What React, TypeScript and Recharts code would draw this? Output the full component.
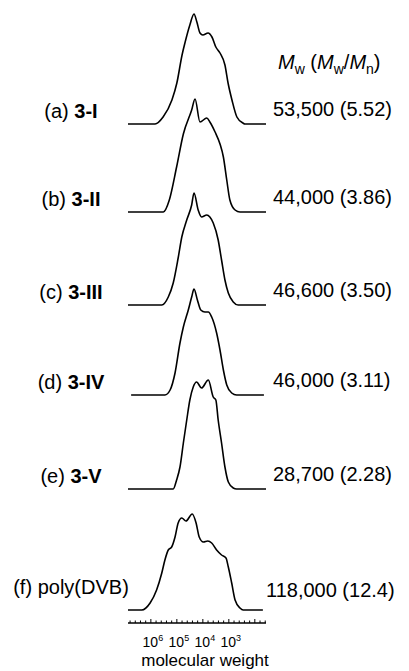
import { LineChart, Line, XAxis, YAxis } from "recharts";

const W = 409;
const H = 671;
const FONT = "'Liberation Sans', Arial, Helvetica, sans-serif";

// sample labels
const sampleTags = ["(a)", "(b)", "(c)", "(d)", "(e)", "(f)"];
const sampleNames = ["3-I", "3-II", "3-III", "3-IV", "3-V", "poly(DVB)"];
const mwLabels = ["53,500 (5.52)", "44,000 (3.86)", "46,600 (3.50)", "46,000 (3.11)", "28,700 (2.28)", "118,000 (12.4)"];

// vertical stacking offset of each trace (intensity units)
const offsets = [499, 411, 318, 228, 134, 13];

// GPC traces: [log10(MW), detector response]
const traceA = [
  [6.88, 0], [5.84, 0], [5.53, 7], [5.19, 24], [5.0, 41], [4.8, 69], [4.69, 81], [4.5, 99], [4.34, 110],
  [4.23, 102], [4.11, 91], [4.0, 89], [3.8, 91], [3.65, 87], [3.5, 77], [3.34, 71], [3.15, 59], [3.03, 41],
  [2.88, 24], [2.69, 7], [2.46, 1], [2.38, 0], [1.57, 0],
];
const traceB = [
  [6.88, 0], [5.52, 0], [5.29, 12], [5.01, 45], [4.75, 78], [4.43, 102], [4.3, 113], [4.11, 90], [3.85, 94],
  [3.73, 90], [3.53, 80], [3.34, 68], [3.21, 55], [3.08, 32], [2.96, 12], [2.76, 2], [2.57, 0], [1.57, 0],
];
const traceC = [
  [6.88, 0], [5.58, 0], [5.33, 8], [5.14, 22], [4.95, 47], [4.81, 68], [4.62, 85], [4.43, 100], [4.34, 112],
  [4.18, 95], [4.05, 88], [3.85, 90], [3.73, 88], [3.6, 82], [3.41, 65], [3.28, 45], [3.15, 25], [3.02, 12],
  [2.83, 3], [2.64, 0], [1.57, 0],
];
const traceD = [
  [6.76, 0], [5.46, 0], [5.26, 5], [5.07, 22], [4.88, 52], [4.75, 68], [4.56, 85], [4.43, 98], [4.34, 106],
  [4.21, 95], [4.08, 85], [3.92, 83], [3.79, 83], [3.66, 78], [3.47, 62], [3.34, 45], [3.21, 25], [3.08, 10],
  [2.89, 2], [2.7, 0], [1.65, 0],
];
const traceE = [
  [6.88, 0], [5.14, 0], [5.01, 9], [4.88, 22], [4.75, 46], [4.62, 69], [4.5, 89], [4.37, 102], [4.24, 107],
  [4.05, 101], [3.79, 109], [3.6, 92], [3.5, 89], [3.41, 69], [3.28, 46], [3.15, 22], [3.02, 7], [2.83, 1],
  [2.7, 0], [1.57, 0],
];
const traceF = [
  [6.88, 0], [6.35, 0], [6.03, 7], [5.78, 20], [5.58, 37], [5.46, 50], [5.33, 60], [5.2, 63], [5.07, 73],
  [4.95, 87], [4.81, 92], [4.65, 89], [4.41, 96], [4.26, 87], [4.14, 73], [3.98, 68], [3.81, 69], [3.66, 67],
  [3.47, 60], [3.28, 55], [3.11, 52], [3.02, 43], [2.89, 27], [2.76, 10], [2.57, 2], [2.45, 0], [1.69, 0],
];
const traces = [traceA, traceB, traceC, traceD, traceE, traceF];

// axis ticks (log10 MW)
const axisTicks = [
  6.8, 6.6, 6.4, 6.2, 6, 5.8, 5.6, 5.4, 5.2, 5, 4.8, 4.6, 4.4, 4.2, 4, 3.8, 3.6, 3.4, 3.2, 3, 2.8, 2.6,
  2.4, 2.2, 2, 1.8, 1.6,
];
const labelledDecades = [6, 5, 4, 3];

const PLOT_LEFT = 128;
const PLOT_RIGHT = 266;
const AXIS_Y = 623;

function AxisTick({ x, y, payload }: any) {
  const v = payload.value;
  const major = Number.isInteger(v);
  return (
    <g>
      <line x1={x} x2={x} y1={y} y2={y - (major ? 4 : 2.5)} stroke="#000" strokeWidth={1} />
      {labelledDecades.includes(v) && (
        <text x={x + 2} y={y + 24} textAnchor="middle" fontSize={14} fontFamily={FONT} fill="#000">
          10<tspan dy={-6} fontSize={9}>{v}</tspan>
        </text>
      )}
    </g>
  );
}

export default function App() {
  return (
    <div style={{ position: "absolute", left: 0, top: 0, width: W, height: H, background: "#fff" }}>
      <LineChart width={W} height={H} margin={{ top: 0, right: W - PLOT_RIGHT, bottom: 0, left: PLOT_LEFT }}>
        <XAxis
          type="number"
          dataKey="lm"
          domain={[1.57, 6.88]}
          reversed
          allowDataOverflow
          ticks={axisTicks}
          interval={0}
          tick={<AxisTick />}
          tickLine={false}
          tickSize={0}
          tickMargin={0}
          height={H - AXIS_Y}
          axisLine={{ stroke: "#000", strokeWidth: 1.3 }}
        />
        <YAxis type="number" domain={[0, AXIS_Y]} hide />
        {traces.map((t, i) => (
          <Line
            key={i}
            data={t.map(([lm, h]) => ({ lm, v: h + offsets[i] }))}
            dataKey="v"
            type="monotone"
            stroke="#000"
            strokeWidth={1.6}
            dot={false}
            isAnimationActive={false}
          />
        ))}
      </LineChart>
      <svg width={W} height={H} style={{ position: "absolute", left: 0, top: 0, pointerEvents: "none" }}>
        <g fontFamily={FONT} fontSize={20} fill="#000">
          <text x={278} y={69}>
            <tspan fontStyle="italic">M</tspan>
            <tspan dy={5} fontSize={14}>w</tspan>
            <tspan dy={-5}> (</tspan>
            <tspan fontStyle="italic">M</tspan>
            <tspan dy={5} fontSize={14}>w</tspan>
            <tspan dy={-5}>/</tspan>
            <tspan fontStyle="italic">M</tspan>
            <tspan dy={5} fontSize={14}>n</tspan>
            <tspan dy={-5}>)</tspan>
          </text>
          {offsets.map((off, i) => {
            const base = AXIS_Y - off;
            const last = i === 5;
            return (
              <g key={i}>
                <text x={71} y={last ? base - 16 : base - 6} textAnchor="middle">
                  {sampleTags[i]}{" "}
                  <tspan fontWeight={last ? "normal" : "bold"}>{sampleNames[i]}</tspan>
                </text>
                <text x={last ? 266 : 273} y={last ? base - 13 : base - 8}>{mwLabels[i]}</text>
              </g>
            );
          })}
          <text x={205} y={666} textAnchor="middle" fontSize={17}>molecular weight</text>
        </g>
      </svg>
    </div>
  );
}
